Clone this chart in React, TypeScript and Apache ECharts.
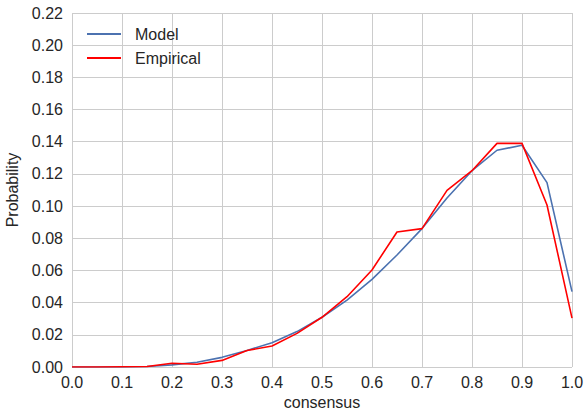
import React, { useEffect, useRef } from "react";
import * as echarts from "echarts";

const xValues = [0, 0.05, 0.1, 0.15, 0.2, 0.25, 0.3, 0.35, 0.4, 0.45, 0.5, 0.55, 0.6, 0.65, 0.7, 0.75, 0.8, 0.85, 0.9, 0.95, 1.0];
const modelValues = [0, 0, 0, 0.0003, 0.0013, 0.003, 0.006, 0.0103, 0.0151, 0.022, 0.0309, 0.0416, 0.0545, 0.0696, 0.086, 0.105, 0.122, 0.1347, 0.1378, 0.1146, 0.0468];
const empiricalValues = [0, 0, 0.0002, 0.0003, 0.0023, 0.0017, 0.0041, 0.0103, 0.013, 0.0209, 0.0309, 0.0437, 0.0603, 0.0839, 0.086, 0.1098, 0.122, 0.139, 0.139, 0.1007, 0.0304];
const seriesNames = ["Model", "Empirical"];

export default function App() {
  const ref = useRef<HTMLDivElement>(null);
  useEffect(() => {
    if (!ref.current) return;
    const chart = echarts.init(ref.current, undefined, { renderer: "svg" });
    const font = "Liberation Sans, Arial, sans-serif";
    const txt = "#262626";
    chart.setOption({
      animation: false,
      backgroundColor: "#ffffff",
      textStyle: { fontFamily: font },
      grid: { left: 72, right: 14, top: 13, bottom: 45, containLabel: false, outerBoundsMode: "none" },
      legend: {
        left: 87,
        top: 26,
        padding: 0,
        orient: "vertical",
        icon: "rect",
        itemWidth: 34,
        itemHeight: 2,
        itemGap: 8,
        textStyle: { fontSize: 16, color: txt, fontFamily: font, lineHeight: 16, padding: [0, 0, 0, 9] },
        data: seriesNames,
      },
      xAxis: {
        type: "value",
        min: 0,
        max: 1,
        interval: 0.1,
        name: "consensus",
        nameLocation: "middle",
        nameGap: 27,
        nameTextStyle: { fontSize: 16, color: txt, fontFamily: font },
        axisLine: { show: false },
        axisTick: { show: false },
        axisLabel: { fontSize: 16, color: txt, margin: 7, formatter: (v: number) => v.toFixed(1) },
        splitLine: { show: true, lineStyle: { color: "#cccccc", width: 1 } },
      },
      yAxis: {
        type: "value",
        min: 0,
        max: 0.22,
        interval: 0.02,
        name: "Probability",
        nameLocation: "middle",
        nameGap: 44,
        nameTextStyle: { fontSize: 16, color: txt, fontFamily: font },
        axisLine: { show: false },
        axisTick: { show: false },
        axisLabel: { fontSize: 16, color: txt, margin: 9, formatter: (v: number) => v.toFixed(2) },
        splitLine: { show: true, lineStyle: { color: "#cccccc", width: 1 } },
      },
      series: [
        {
          name: seriesNames[0],
          type: "line",
          data: xValues.map((x, i) => [x, modelValues[i]]),
          symbol: "none",
          color: "#4c72b0",
          lineStyle: { color: "#4c72b0", width: 1.6 },
        },
        {
          name: seriesNames[1],
          type: "line",
          data: xValues.map((x, i) => [x, empiricalValues[i]]),
          symbol: "none",
          color: "#ff0000",
          lineStyle: { color: "#ff0000", width: 1.6 },
        },
      ],
    });
    return () => chart.dispose();
  }, []);
  return <div ref={ref} style={{ width: 586, height: 412, position: "absolute", left: 0, top: 0 }} />;
}
